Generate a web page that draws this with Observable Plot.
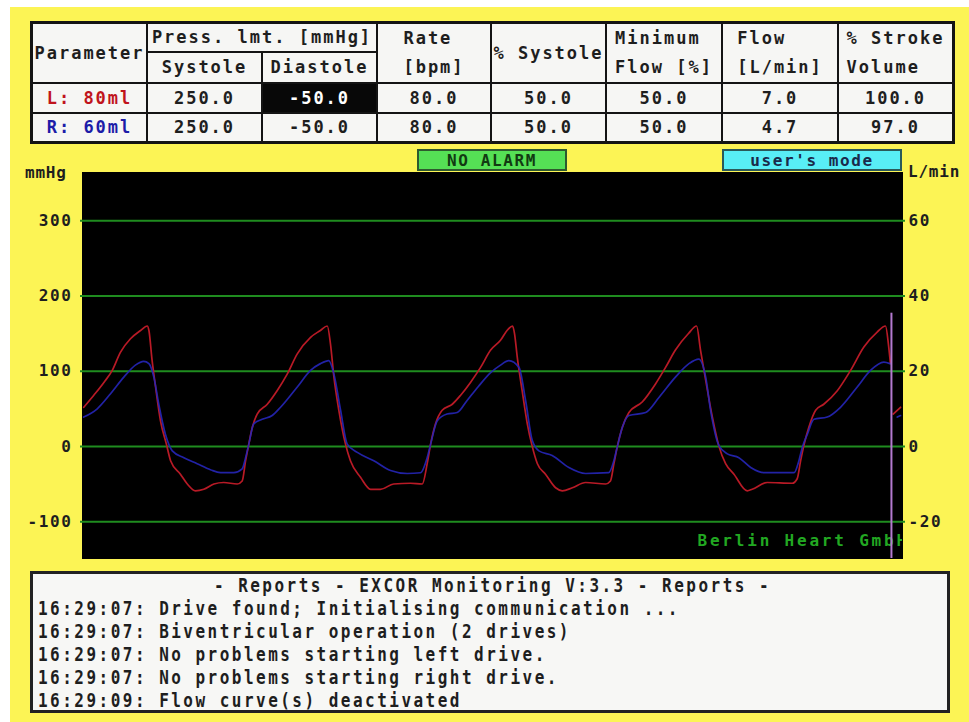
<!DOCTYPE html>
<html><head><meta charset="utf-8">
<script src="https://cdn.jsdelivr.net/npm/d3@7"></script>
<script src="https://cdn.jsdelivr.net/npm/@observablehq/plot@0.6"></script>
<style>
body{margin:0;background:#fff;}
#page{position:relative;width:969px;height:722px;overflow:hidden;background:#fff;font-family:"DejaVu Sans Mono",monospace;font-weight:bold;color:#1e1e1e;}
#panel{position:absolute;left:10px;top:7px;right:0;bottom:0;background:#fcf455;}
#table{position:absolute;left:30px;top:21px;width:925px;height:123px;background:#141414;}
.cell{position:absolute;background:#f6f6f4;display:flex;flex-direction:column;align-items:center;justify-content:center;font-size:17px;letter-spacing:2px;line-height:29px;white-space:pre;}
.cell.sel{background:#080808;color:#fff;}
.badge{position:absolute;box-sizing:border-box;display:flex;align-items:center;justify-content:center;font-size:16px;letter-spacing:1.6px;border:2px solid #2e5a2e;}
.unit{position:absolute;font-size:16px;letter-spacing:0.8px;line-height:16px;}
#chart{position:absolute;left:0;top:145px;}
#chart svg text{letter-spacing:1.6px;}
#chart svg text.brand, #chart svg g.brand text{letter-spacing:2.8px;}
#reports{position:absolute;left:30px;top:571px;width:920px;height:142px;box-sizing:border-box;border:3px solid #222;background:#f7f7f5;font-size:20px;line-height:23px;white-space:pre;padding-left:5px;}
#reports div{letter-spacing:3.1px;transform:scaleX(0.8);transform-origin:left center;}
#reports div.title{text-align:center;transform-origin:center center;}
</style></head>
<body><div id="page">
<div id="panel"></div>
<div id="table"></div>
<div class="badge" id="alarm" style="left:417px;top:149px;width:150px;height:22px;background:#55e055;color:#123a12;"></div>
<div class="badge" id="mode" style="left:722px;top:149px;width:180px;height:22px;background:#58eef6;color:#1a2a4a;border-color:#2a5a5a;"></div>
<div class="unit" id="unitL" style="left:25px;top:165px;"></div>
<div class="unit" id="unitR" style="left:908px;top:164px;"></div>
<div id="chart"></div>
<div id="reports"></div>
</div>
<script>
// ---- table data ----
const driveLabels = ["L: 80ml", "R: 60ml"];
const driveColors = ["#c0141c", "#1c1ca8"];
const systoleLimit = ["250.0", "250.0"];
const diastoleLimit = ["-50.0", "-50.0"];
const rateBpm = ["80.0", "80.0"];
const pctSystole = ["50.0", "50.0"];
const minimumFlow = ["50.0", "50.0"];
const flowLmin = ["7.0", "4.7"];
const strokeVolume = ["100.0", "97.0"];
const headerCells = [
  {text: "Parameter", c: [0, 1], r: [0, 2]},
  {text: "Press. lmt. [mmHg]", c: [1, 3], r: [0, 1]},
  {text: "Systole", c: [1, 2], r: [1, 2]},
  {text: "Diastole", c: [2, 3], r: [1, 2]},
  {text: "Rate\n[bpm]", c: [3, 4], r: [0, 2]},
  {text: "% Systole", c: [4, 5], r: [0, 2]},
  {text: "Minimum\nFlow [%]", c: [5, 6], r: [0, 2]},
  {text: "Flow\n[L/min]", c: [6, 7], r: [0, 2]},
  {text: "% Stroke\nVolume", c: [7, 8], r: [0, 2]}
];
// ---- status / report texts ----
const alarmText = "NO ALARM";
const modeText = "user's mode";
const leftUnit = "mmHg";
const rightUnit = "L/min";
const brandText = "Berlin Heart GmbH";
const reportTitle = "- Reports - EXCOR Monitoring V:3.3 - Reports -";
const reportLines = [
  "16:29:07: Drive found; Initialising communication ...",
  "16:29:07: Biventricular operation (2 drives)",
  "16:29:07: No problems starting left drive.",
  "16:29:07: No problems starting right drive.",
  "16:29:09: Flow curve(s) deactivated"
];
// ---- chart data: [time ms, pressure mmHg]; null = sweep gap ----
const pressureTicks = [-100, 0, 100, 200, 300];
const flowTicks = [-20, 0, 20, 40, 60];
const timeDomain = [0, 3333];
const pressureDomain = [-149, 364];
const sweepCursor = {time: 3288, top: 177};
const leftTrace = [[5,52],[46,68],[87,85],[121,101],[154,125],[195,143],[236,154],[263,160],[270,154],[283,114],[297,79],[317,34],[341,3],[358,-19],[398,-37],[426,-50],[459,-59],[493,-57],[534,-50],[574,-48],[629,-50],[649,-46],[663,-19],[676,3],[690,25],[710,43],[751,56],[791,74],[832,96],[873,123],[927,145],[967,154],[995,160],[1008,136],[1022,92],[1042,48],[1069,3],[1089,-19],[1130,-41],[1171,-57],[1211,-57],[1265,-50],[1333,-49],[1381,-50],[1401,-23],[1415,3],[1435,30],[1462,48],[1503,56],[1537,68],[1577,85],[1618,105],[1659,128],[1699,141],[1728,155],[1748,160],[1756,150],[1767,119],[1787,74],[1808,30],[1828,0],[1849,-23],[1882,-37],[1923,-55],[1950,-59],[1991,-55],[2045,-48],[2126,-50],[2146,-46],[2160,-23],[2174,0],[2194,25],[2221,45],[2275,59],[2329,83],[2370,105],[2410,128],[2463,150],[2496,160],[2512,128],[2533,88],[2560,39],[2587,0],[2614,-23],[2648,-37],[2702,-59],[2722,-57],[2783,-48],[2885,-49],[2905,-43],[2919,-19],[2932,1],[2952,25],[2980,48],[3013,56],[3068,74],[3122,101],[3176,132],[3230,152],[3264,160],[3276,135],[3284,110],[3289,null],[3295,43],[3325,52]];
const rightTrace = [[5,39],[60,50],[114,70],[168,92],[215,108],[249,113],[270,110],[290,92],[310,56],[337,16],[365,-6],[412,-15],[466,-23],[520,-31],[561,-35],[615,-35],[649,-30],[663,-15],[676,3],[696,30],[730,36],[771,41],[805,52],[873,79],[927,101],[967,110],[1001,114],[1022,96],[1049,48],[1076,3],[1117,-8],[1184,-19],[1252,-32],[1320,-36],[1374,-35],[1401,-15],[1415,3],[1442,34],[1482,43],[1523,45],[1561,60],[1610,80],[1659,98],[1699,108],[1733,114],[1774,105],[1801,61],[1828,8],[1855,-6],[1909,-12],[1977,-28],[2045,-36],[2139,-35],[2160,-19],[2174,0],[2194,25],[2221,41],[2289,45],[2343,65],[2410,92],[2465,110],[2505,116],[2533,92],[2553,48],[2587,1],[2621,-10],[2668,-15],[2716,-28],[2770,-35],[2892,-35],[2912,-19],[2926,-1],[2946,16],[2973,36],[3027,39],[3081,52],[3149,79],[3203,101],[3257,112],[3282,110],[3289,null],[3312,39],[3325,41]];

// ---- build table ----
const colLines = [0,117,232,347,461,576,692,808,925];
const rowLines = [0,31,62,92,123];
const tableEl = document.getElementById("table");
function addCell(text, c, r, opts = {}) {
  const last = colLines.length - 1, lastR = rowLines.length - 1;
  const l = colLines[c[0]] + (c[0] === 0 ? 3 : 1);
  const rt = colLines[c[1]] - (c[1] === last ? 3 : 1);
  const t = rowLines[r[0]] + (r[0] === 0 ? 3 : 1);
  const b = rowLines[r[1]] - (r[1] === lastR ? 3 : 1);
  const d = document.createElement("div");
  d.className = "cell" + (opts.sel ? " sel" : "");
  d.style.left = l + "px"; d.style.top = t + "px";
  d.style.width = (rt - l) + "px"; d.style.height = (b - t) + "px";
  if (opts.color) d.style.color = opts.color;
  d.textContent = text;
  tableEl.appendChild(d);
}
headerCells.forEach(h => addCell(h.text, h.c, h.r));
const columns = [systoleLimit, diastoleLimit, rateBpm, pctSystole, minimumFlow, flowLmin, strokeVolume];
driveLabels.forEach((lab, i) => {
  const r = [2 + i, 3 + i];
  addCell(lab, [0, 1], r, {color: driveColors[i]});
  columns.forEach((col, j) => addCell(col[i], [1 + j, 2 + j], r, {sel: i === 0 && j === 1}));
});
document.getElementById("alarm").textContent = alarmText;
document.getElementById("mode").textContent = modeText;
document.getElementById("unitL").textContent = leftUnit;
document.getElementById("unitR").textContent = rightUnit;
const rep = document.getElementById("reports");
const tdiv = document.createElement("div"); tdiv.className = "title"; tdiv.textContent = reportTitle; rep.appendChild(tdiv);
reportLines.forEach(s => { const d = document.createElement("div"); d.textContent = s; rep.appendChild(d); });

// ---- chart ----
const flowByPressure = new Map(pressureTicks.map((p, i) => [p, flowTicks[i]]));
const chart = Plot.plot({
  width: 969, height: 420,
  marginLeft: 82, marginRight: 67, marginTop: 27, marginBottom: 7,
  style: {background: "transparent", fontFamily: "DejaVu Sans Mono, monospace", fontWeight: "bold", fontSize: "16px", color: "#1e1e1e"},
  x: {domain: timeDomain, axis: null},
  y: {domain: pressureDomain, axis: null},
  marks: [
    Plot.frame({fill: "#000", stroke: "#000"}),
    Plot.ruleY(pressureTicks, {stroke: "#1f8c1f", strokeWidth: 2, insetLeft: -2, insetRight: -3}),
    Plot.axisY({anchor: "left", ticks: pressureTicks, tickSize: 0, tickPadding: 10, label: null, tickFormat: d => String(d), fontSize: 16}),
    Plot.axisY({anchor: "right", ticks: pressureTicks, tickSize: 0, tickPadding: 6, label: null, tickFormat: d => String(flowByPressure.get(d)), fontSize: 16}),
    Plot.text([brandText], {frameAnchor: "bottom-right", textAnchor: "start", dx: -205, dy: -13, fill: "#22a822", fontSize: 16, clip: "frame", className: "brand"}),
    Plot.line(leftTrace, {x: d => d[0], y: d => d[1], stroke: "#b81a26", strokeWidth: 1.7, curve: "monotone-x", clip: "frame"}),
    Plot.line(rightTrace, {x: d => d[0], y: d => d[1], stroke: "#2626b8", strokeWidth: 1.7, strokeOpacity: 0.9, curve: "monotone-x", clip: "frame"}),
    Plot.ruleX([sweepCursor], {x: "time", y1: "top", y2: pressureDomain[0], stroke: "#b47ad0", strokeWidth: 2})
  ]
});
document.getElementById("chart").appendChild(chart);
</script>
</body></html>
